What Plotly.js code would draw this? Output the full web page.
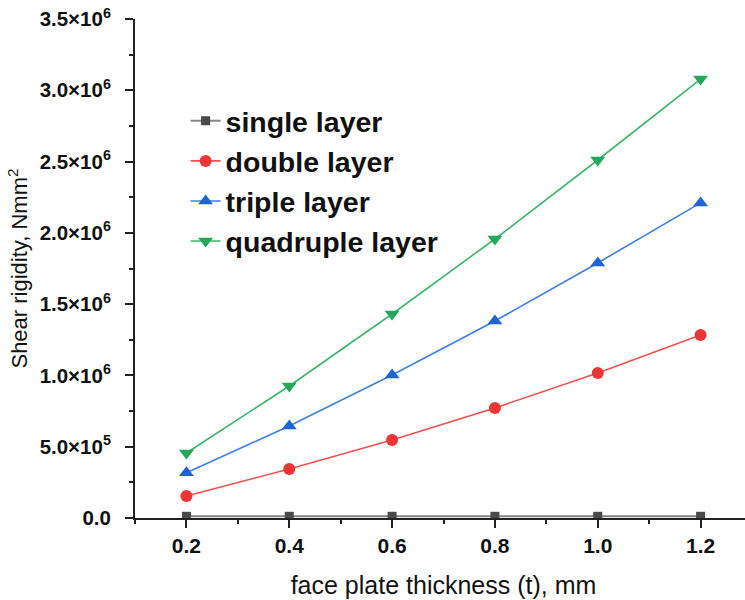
<!DOCTYPE html>
<html>
<head>
<meta charset="utf-8">
<script src="https://cdn.plot.ly/plotly-3.0.1.min.js"></script>
<style>
html,body{margin:0;padding:0;overflow:hidden;background:#fff;}
#chart{width:760px;height:600px;}
</style>
</head>
<body>
<div id="chart"></div>
<script>
const thickness = [0.2, 0.4, 0.6, 0.8, 1.0, 1.2];
const singleLayer = [12000, 12000, 12000, 12000, 12000, 12000];
const doubleLayer = [155000, 343000, 547000, 772000, 1017000, 1284000];
const tripleLayer = [318000, 645000, 1003000, 1382000, 1789000, 2210000];
const quadrupleLayer = [456000, 926000, 1431000, 1957000, 2511000, 3079000];
const seriesNames = ['single layer', 'double layer', 'triple layer', 'quadruple layer'];
const yTickVals = [0, 500000, 1000000, 1500000, 2000000, 2500000, 3000000, 3500000];
const yTickText = ['0.0', '5.0×10<sup>5</sup>', '1.0×10<sup>6</sup>', '1.5×10<sup>6</sup>', '2.0×10<sup>6</sup>', '2.5×10<sup>6</sup>', '3.0×10<sup>6</sup>', '3.5×10<sup>6</sup>'];
const xTickVals = [0.2, 0.4, 0.6, 0.8, 1.0, 1.2];

const FONT = 'Liberation Sans, Arial, sans-serif';

const traces = [
  {x: thickness, y: singleLayer, name: seriesNames[0], mode: 'lines+markers',
   line: {color: '#858585', width: 2}, marker: {symbol: 'square', size: 9, color: '#4a4a4a'}},
  {x: thickness, y: doubleLayer, name: seriesNames[1], mode: 'lines+markers',
   line: {color: '#f25050', width: 1.6}, marker: {symbol: 'circle', size: 12, color: '#ee3535'}},
  {x: thickness, y: tripleLayer, name: seriesNames[2], mode: 'lines+markers',
   line: {color: '#3d7fe6', width: 1.6}, marker: {symbol: 'triangle-up', size: 13, color: '#1f63d8'}},
  {x: thickness, y: quadrupleLayer, name: seriesNames[3], mode: 'lines+markers',
   line: {color: '#3db56e', width: 1.6}, marker: {symbol: 'triangle-down', size: 13, color: '#25a85a'}}
];

const axisColor = '#222';
const layout = {
  width: 760, height: 600,
  margin: {l: 135, r: 8, t: 19, b: 82},
  paper_bgcolor: '#fff', plot_bgcolor: '#fff',
  font: {family: FONT, color: '#111'},
  showlegend: true,
  legend: {x: 0.082, y: 0.846, xanchor: 'left', yanchor: 'top',
    font: {family: FONT, size: 28.5, weight: 'bold', color: '#111'},
    bgcolor: 'rgba(0,0,0,0)', itemwidth: 30, tracegroupgap: 0},
  xaxis: {
    range: [0.1, 1.3], tickvals: xTickVals, tickformat: '.1f',
    showgrid: false, zeroline: false,
    showline: true, linecolor: axisColor, linewidth: 2,
    ticks: 'outside', ticklen: 8, tickwidth: 2, tickcolor: axisColor,
    minor: {dtick: 0.2, tick0: 0.1, ticks: 'outside', ticklen: 4, tickwidth: 2, tickcolor: axisColor, showgrid: false},
    tickfont: {family: FONT, size: 21, weight: 'bold', color: '#111'},
    title: {text: 'face plate thickness (t), mm', font: {family: FONT, size: 25, color: '#111'}, standoff: 20}
  },
  yaxis: {
    range: [0, 3500000], tickvals: yTickVals, ticktext: yTickText,
    showgrid: false, zeroline: false,
    showline: true, linecolor: axisColor, linewidth: 2,
    ticks: 'outside', ticklen: 8, tickwidth: 2, tickcolor: axisColor,
    minor: {dtick: 500000, tick0: 250000, ticks: 'outside', ticklen: 4, tickwidth: 2, tickcolor: axisColor, showgrid: false},
    tickfont: {family: FONT, size: 20.5, weight: 'bold', color: '#111'},
    ticklabelstandoff: 10,
    title: {text: 'Shear rigidity, Nmm<sup>2</sup>', font: {family: FONT, size: 22, color: '#111'}, standoff: 6}
  },
  xaxis2: {
    overlaying: 'x', side: 'top', matches: 'x', anchor: 'y',
    range: [0.1, 1.3], tickvals: xTickVals, showticklabels: false,
    showgrid: false, zeroline: false,
    showline: true, linecolor: axisColor, linewidth: 2,
    ticks: 'inside', ticklen: 8, tickwidth: 2, tickcolor: axisColor,
    minor: {dtick: 0.2, tick0: 0.1, ticks: 'inside', ticklen: 4, tickwidth: 2, tickcolor: axisColor, showgrid: false}
  },
  yaxis2: {
    overlaying: 'y', side: 'right', matches: 'y', anchor: 'x',
    range: [0, 3500000], tickvals: yTickVals, showticklabels: false,
    showgrid: false, zeroline: false,
    showline: true, linecolor: axisColor, linewidth: 2,
    ticks: 'inside', ticklen: 8, tickwidth: 2, tickcolor: axisColor,
    minor: {dtick: 500000, tick0: 250000, ticks: 'inside', ticklen: 4, tickwidth: 2, tickcolor: axisColor, showgrid: false}
  }
};

Plotly.newPlot('chart', traces, layout, {displayModeBar: false, staticPlot: true});
</script>
</body>
</html>
